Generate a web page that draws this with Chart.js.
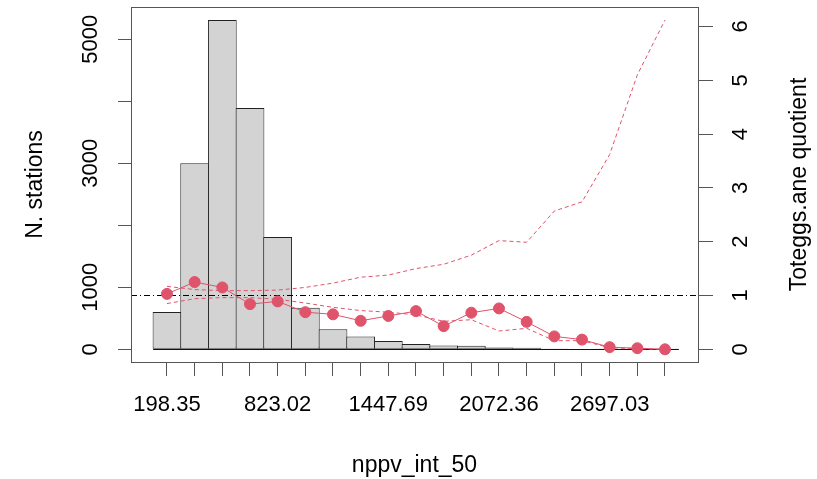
<!DOCTYPE html>
<html>
<head>
<meta charset="utf-8">
<script src="https://cdn.jsdelivr.net/npm/chart.js@4.4.1/dist/chart.umd.min.js"></script>
<style>
  html, body { margin: 0; padding: 0; background: #fff; }
  #wrap { width: 817px; height: 479px; }
</style>
</head>
<body>
<div id="wrap"><canvas id="chart"></canvas></div>
<script>
// stations per nppv_int_50 bin (histogram)
const binCounts = [600, 3000, 5310, 3890, 1810, 670, 325, 205, 135, 85, 60, 58, 28, 26, 11, 9, 4, 2, 1];
// Toteggs.ane quotient per bin, with its dashed bounds
const quotient = [1.03, 1.25, 1.15, 0.84, 0.89, 0.69, 0.65, 0.53, 0.62, 0.71, 0.43, 0.68, 0.76, 0.51, 0.24, 0.18, 0.04, 0.02, 0.0];
const upperBand = [1.17, 1.11, 1.09, 1.09, 1.10, 1.15, 1.23, 1.34, 1.38, 1.50, 1.58, 1.75, 2.02, 1.99, 2.57, 2.74, 3.62, 5.10, 6.12];
const lowerBand = [0.85, 0.94, 0.96, 0.96, 0.93, 0.86, 0.78, 0.72, 0.69, 0.64, 0.52, 0.55, 0.34, 0.39, 0.16, 0.16, 0.03, 0.01, 0.0];

const xTickLabels = ['198.35', '823.02', '1447.69', '2072.36', '2697.03'];
const labelEvery = 4;
const countTicks = [0, 1000, 2000, 3000, 4000, 5000];
const countLabels = [0, 1000, 3000, 5000];
const quotientTicks = [0, 1, 2, 3, 4, 5, 6];
const refQuotient = 1;

const binIndex = binCounts.map((_, i) => i);
const xy = vals => vals.map((v, i) => ({ x: binIndex[i], y: v }));

const red = '#DF536B';
const family = "'Liberation Sans', Arial, sans-serif";
const tickFont = { family, size: 22 };
const titleFont = { family, size: 23 };
const axisGrey = '#555';

// fixed axis box sizes so the plot region sits where R put it
function fixSize(w, h) {
    return s => {
        if (w) s.width = w;
        if (h) s.height = h;
        s.paddingTop = 0; s.paddingBottom = 0;
        s.paddingLeft = 0; s.paddingRight = 0;
    };
}

// box, baseline, reference line and right-hand title (R style)
const rPlot = {
    id: 'rPlot',
    afterDatasetDraw(chart, args) {
        if (args.index !== 3) return;
        const { ctx, chartArea, scales } = chart;
        const y0 = Math.round(scales.y.getPixelForValue(0)) + 0.5;
        ctx.save();
        ctx.strokeStyle = '#111';
        ctx.lineWidth = 1;
        ctx.beginPath();
        ctx.moveTo(scales.x.getPixelForValue(-0.5), y0);
        ctx.lineTo(scales.x.getPixelForValue(binCounts.length - 0.5), y0);
        ctx.stroke();
        const yr = Math.round(scales.y1.getPixelForValue(refQuotient)) + 0.5;
        ctx.strokeStyle = '#000';
        ctx.setLineDash([6, 3, 1, 3]);
        ctx.beginPath();
        ctx.moveTo(chartArea.left, yr);
        ctx.lineTo(chartArea.right, yr);
        ctx.stroke();
        ctx.restore();
    },
    afterDraw(chart) {
        const { ctx, chartArea, scales } = chart;
        ctx.save();
        ctx.strokeStyle = axisGrey;
        ctx.lineWidth = 1;
        ctx.strokeRect(chartArea.left + 0.5, chartArea.top + 0.5,
            chartArea.right - chartArea.left, chartArea.bottom - chartArea.top);
        ctx.translate(scales.y1.right - 17, (chartArea.top + chartArea.bottom) / 2);
        ctx.rotate(-Math.PI / 2);
        ctx.fillStyle = '#000';
        ctx.font = `${titleFont.size}px ${titleFont.family}`;
        ctx.textAlign = 'center';
        ctx.textBaseline = 'middle';
        ctx.fillText('Toteggs.ane quotient', 0, 0);
        ctx.restore();
    }
};

new Chart(document.getElementById('chart').getContext('2d'), {
    type: 'bar',
    data: {
        datasets: [{
            type: 'line',
            data: xy(upperBand),
            yAxisID: 'y1',
            borderColor: red,
            borderWidth: 1,
            borderDash: [4, 3],
            pointRadius: 0,
            order: 1
        }, {
            type: 'line',
            data: xy(lowerBand),
            yAxisID: 'y1',
            borderColor: red,
            borderWidth: 1,
            borderDash: [4, 3],
            pointRadius: 0,
            order: 1
        }, {
            type: 'line',
            data: xy(quotient),
            yAxisID: 'y1',
            borderColor: red,
            borderWidth: 1,
            pointRadius: 5.5,
            pointBackgroundColor: red,
            pointBorderColor: red,
            order: 0
        }, {
            type: 'bar',
            data: xy(binCounts),
            yAxisID: 'y',
            backgroundColor: '#D3D3D3',
            borderColor: '#222',
            borderWidth: 1,
            borderSkipped: false,
            barPercentage: 1.04,
            categoryPercentage: 1,
            order: 3
        }]
    },
    options: {
        responsive: true,
        maintainAspectRatio: false,
        animation: false,
        layout: { padding: { top: 7, left: 0, right: 0, bottom: 0 } },
        plugins: { legend: { display: false }, tooltip: { enabled: false } },
        scales: {
            x: {
                type: 'linear',
                offset: false,
                min: -1.301,
                max: 19.193,
                afterBuildTicks: s => { s.ticks = binIndex.map(v => ({ value: v })); },
                afterFit: fixSize(0, 117),
                ticks: {
                    font: tickFont, color: '#000', padding: 16, maxRotation: 0, autoSkip: false,
                    callback: v => v % labelEvery === 0 ? xTickLabels[v / labelEvery] : ''
                },
                grid: { offset: false, drawOnChartArea: false, tickLength: 14, color: axisGrey },
                border: { display: false },
                title: { display: true, text: 'nppv_int_50', font: titleFont, color: '#000', padding: { top: 0, bottom: 0 } }
            },
            y: {
                position: 'left',
                min: -205,
                max: 5521,
                afterBuildTicks: s => { s.ticks = countTicks.map(v => ({ value: v })); },
                afterFit: fixSize(131, 0),
                ticks: {
                    font: tickFont, color: '#000', minRotation: 90, maxRotation: 90, crossAlign: 'center',
                    padding: 3, autoSkip: false,
                    callback: v => countLabels.includes(v) ? String(v) : ''
                },
                grid: { drawOnChartArea: false, tickLength: 13, color: axisGrey },
                border: { display: false },
                title: { display: true, text: 'N. stations', font: titleFont, color: '#000', padding: { top: 22, bottom: 0 } }
            },
            y1: {
                position: 'right',
                min: -0.236,
                max: 6.362,
                afterBuildTicks: s => { s.ticks = quotientTicks.map(v => ({ value: v })); },
                afterFit: fixSize(119, 0),
                ticks: {
                    font: tickFont, color: '#000', minRotation: 90, maxRotation: 90, crossAlign: 'center',
                    padding: 22, autoSkip: false,
                    callback: v => String(v)
                },
                grid: { drawOnChartArea: false, tickLength: 15, color: axisGrey },
                border: { display: false }
            }
        }
    },
    plugins: [rPlot]
});
</script>
</body>
</html>
